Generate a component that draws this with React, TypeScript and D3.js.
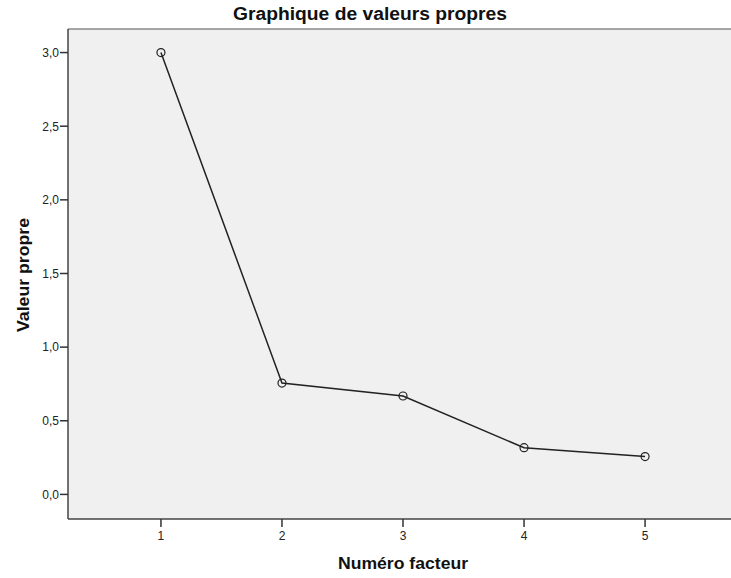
import React from "react";
import * as d3 from "d3";

const factors = [1, 2, 3, 4, 5];
const eigenvalues = [3.0, 0.756, 0.668, 0.317, 0.257];
const yTicks = [0, 0.5, 1.0, 1.5, 2.0, 2.5, 3.0];
const title = "Graphique de valeurs propres";
const xTitle = "Numéro facteur";
const yTitle = "Valeur propre";

export default function App() {
  const W = 731, H = 578;
  const left = 68, right = 731, top = 29, bottom = 519;
  const x = d3.scaleLinear().domain([0.232, 5.71]).range([left, right]);
  const y = d3.scaleLinear().domain([-0.167, 3.16]).range([bottom, top]);
  const line = d3.line<number>().x((_, i) => x(factors[i])).y((d) => y(d));
  const font = "Arial, 'Liberation Sans', sans-serif";
  return (
    <svg width={W} height={H} style={{ position: "absolute", left: 0, top: 0 }} fontFamily={font}>
      <rect x={0} y={0} width={W} height={H} fill="#fff" />
      <rect x={left} y={top} width={right - left} height={bottom - top} fill="#f0f0f0" />
      <line x1={left} x2={right} y1={top} y2={top} stroke="#8a8a8a" strokeWidth={1.5} />
      <line x1={left} x2={left} y1={top} y2={bottom} stroke="#444" strokeWidth={1.5} />
      <line x1={left} x2={right} y1={bottom} y2={bottom} stroke="#444" strokeWidth={1.5} />
      {yTicks.map((t) => (
        <g key={t}>
          <line x1={left - 8} x2={left} y1={y(t)} y2={y(t)} stroke="#333" strokeWidth={1.5} />
          <text x={left - 9} y={y(t)} dy="0.36em" textAnchor="end" fontSize={12} fill="#222">
            {d3.format(".1f")(t).replace(".", ",")}
          </text>
        </g>
      ))}
      {factors.map((f) => (
        <g key={f}>
          <line x1={x(f)} x2={x(f)} y1={bottom} y2={bottom + 8} stroke="#333" strokeWidth={1.5} />
          <text x={x(f)} y={bottom + 21} textAnchor="middle" fontSize={12} fill="#222">
            {f}
          </text>
        </g>
      ))}
      <path d={line(eigenvalues) || ""} fill="none" stroke="#222" strokeWidth={1.5} />
      {eigenvalues.map((v, i) => (
        <circle key={i} cx={x(factors[i])} cy={y(v)} r={4} fill="none" stroke="#222" strokeWidth={1.2} />
      ))}
      <text x={370} y={20} textAnchor="middle" fontSize={18} fontWeight="bold" fill="#111"
        textLength={274} lengthAdjust="spacingAndGlyphs">
        {title}
      </text>
      <text x={403} y={569} textAnchor="middle" fontSize={16} fontWeight="bold" fill="#111"
        textLength={130} lengthAdjust="spacingAndGlyphs">
        {xTitle}
      </text>
      <text transform={`translate(29,275) rotate(-90)`} textAnchor="middle" fontSize={17} fontWeight="bold" fill="#111"
        textLength={114} lengthAdjust="spacingAndGlyphs">
        {yTitle}
      </text>
    </svg>
  );
}
